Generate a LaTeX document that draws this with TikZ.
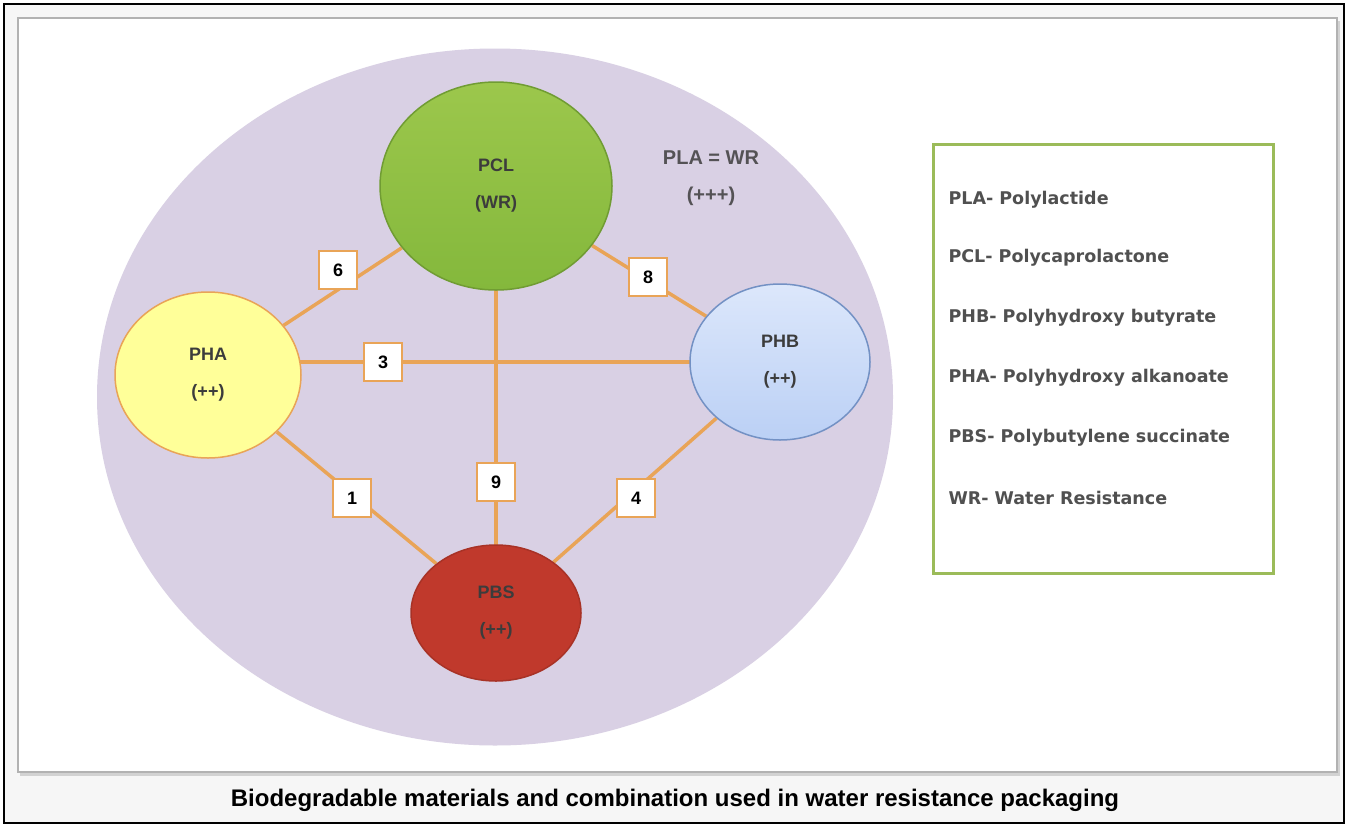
\documentclass[tikz,border=0pt]{standalone}
\usepackage{fontspec}
\setmainfont{Liberation Sans}
\newfontfamily\legfont{DejaVu Sans}
\usetikzlibrary{shapes.geometric}
\pgfdeclarelayer{back}
\pgfdeclarelayer{mid}
\pgfsetlayers{back,mid,main}
\definecolor{lav}{HTML}{D9D0E4}
\definecolor{conn}{HTML}{E9A457}
\definecolor{legborder}{HTML}{9BBB59}
\definecolor{txt}{HTML}{3C3C3C}
\definecolor{gtop}{HTML}{9CC74C}
\definecolor{gbot}{HTML}{84B83C}
\definecolor{btop}{HTML}{DCE7FB}
\definecolor{bbot}{HTML}{BBD0F5}
\definecolor{bline}{HTML}{7391C4}
\definecolor{rfill}{HTML}{C0392C}
\definecolor{rline}{HTML}{A83226}
\definecolor{yfill}{HTML}{FFFF99}
\tikzset{
  blob/.style={ellipse, draw, line width=1.5pt, align=center, font=\fontsize{18}{37}\selectfont\bfseries, text=txt},
  link/.style={draw=conn, line width=3.5pt},
  numbox/.style={draw=conn, fill=white, line width=2.5pt, minimum width=38pt, minimum height=38pt, inner sep=0pt, font=\fontsize{18}{18}\selectfont\bfseries},
  legtext/.style={anchor=west, font=\legfont\bfseries\fontsize{17.5}{17.5}\selectfont, text=txt!90!white},
}
\begin{document}
\begin{tikzpicture}[x=1pt,y=-1pt]
\useasboundingbox (0,0) rectangle (1348,827);
\begin{pgfonlayer}{back}
\fill[white] (0,0) rectangle (1348,827);
\draw[line width=1.5pt] (4,4) rectangle (1344,823);
\fill[gray!7] (5,5) rectangle (1343,822);
\fill[gray!35] (20,21) rectangle (1340,776);
\draw[draw=gray!60, fill=white, line width=1.5pt] (18,18) rectangle (1337,772);
\node[ellipse, fill=lav, minimum width=796pt, minimum height=697pt, inner sep=0pt] (bg) at (495,397) {};
\end{pgfonlayer}
% material nodes
\node[blob, draw=gbot!85!black, top color=gtop, bottom color=gbot, minimum width=232pt, minimum height=208pt] (pcl) at (496,186) {PCL\\(WR)};
\node[blob, draw=conn, fill=yfill, minimum width=186pt, minimum height=166pt] (pha) at (208,375) {PHA\\(++)};
\node[blob, draw=bline, top color=btop, bottom color=bbot, minimum width=180pt, minimum height=156pt] (phb) at (780,362) {PHB\\(++)};
\node[blob, draw=rline, fill=rfill, minimum width=170pt, minimum height=136pt] (pbs) at (496,613) {PBS\\(++)};
\node[align=center, font=\fontsize{20}{37}\selectfont\bfseries, text=txt!85!lav] (pla) at (711,178) {PLA = WR\\(+++)};
% connectors
\begin{pgfonlayer}{mid}
\draw[link] (pcl) -- (pha);
\draw[link] (pcl) -- (phb);
\draw[link] (pha.center |- 0,362) -- (phb.center);
\draw[link] (pcl.center) -- (pbs.center);
\draw[link] (pha) -- (pbs);
\draw[link] (phb) -- (pbs);
\end{pgfonlayer}
\node[numbox] (n6) at (338,270) {6};
\node[numbox] (n8) at (648,277) {8};
\node[numbox] (n3) at (383,362) {3};
\node[numbox] (n9) at (496,482) {9};
\node[numbox] (n1) at (352,498) {1};
\node[numbox] (n4) at (636,498) {4};
% legend
\node[draw=legborder, line width=2.5pt, minimum width=340pt, minimum height=429pt, anchor=north west, fill=white] (leg) at (932,143) {};
\node[legtext] (l1) at (945,200) {PLA- Polylactide};
\node[legtext] (l2) at (945,258) {PCL- Polycaprolactone};
\node[legtext] (l3) at (945,318) {PHB- Polyhydroxy butyrate};
\node[legtext] (l4) at (945,378) {PHA- Polyhydroxy alkanoate};
\node[legtext] (l5) at (945,438) {PBS- Polybutylene succinate};
\node[legtext] (l6) at (945,498) {WR- Water Resistance};
% caption
\node[font=\fontsize{24}{24}\selectfont\bfseries] (cap) at (675,800) {Biodegradable materials and combination used in water resistance packaging};
\end{tikzpicture}
\end{document}
